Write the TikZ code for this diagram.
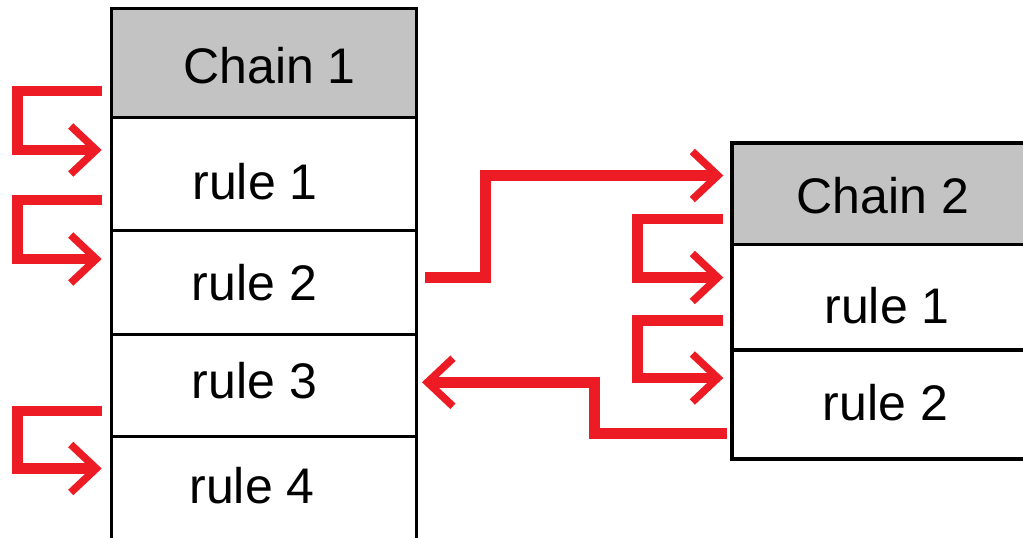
\documentclass[tikz,border=0pt]{standalone}
\usepackage{fontspec}
\setmainfont{Liberation Sans}
\usetikzlibrary{arrows.meta,calc}
\definecolor{flowred}{HTML}{ED1C24}
\definecolor{headgray}{HTML}{C3C3C3}
\tikzset{
  cell/.style={draw=black, line width=3.5pt, fill=white, inner sep=0pt, outer sep=0pt,
    minimum width=#1},
  cell/.default=305pt,
  headcell/.style={cell=#1, fill=headgray},
  headcell/.default=305pt,
  txt/.style={anchor=base, inner sep=0pt, font=\fontsize{50}{60}\selectfont},
  flow/.style={draw=flowred, line width=10.7pt, line cap=butt, line join=miter,
    -{Straight Barb[length=25.5pt, width=48pt, line width=7.5pt]}},
}
\begin{document}
\begin{tikzpicture}[x=1pt, y=-1pt]
  \clip (0,0) rectangle (1023,538);
  \fill[white] (0,0) rectangle (1023,538);

  % first chain
  \node[headcell, minimum height=109pt] (c1h)  at (264,63)    {};
  \node[cell, minimum height=113pt]     (c1r1) at (264,174)   {};
  \node[cell, minimum height=104pt]     (c1r2) at (264,282.5) {};
  \node[cell, minimum height=102pt]     (c1r3) at (264,385.5) {};
  \node[cell, minimum height=110pt]     (c1r4) at (264,491.5) {};

  \node[txt] (t1h)  at (269.5,83) {Chain 1};
  \node[txt] (t1r1) at (255,199)  {rule 1};
  \node[txt] (t1r2) at (254.5,300) {rule 2};
  \node[txt] (t1r3) at (254.5,398) {rule 3};
  \node[txt] (t1r4) at (252,503)  {rule 4};

  % second chain
  \node[headcell=310pt, minimum height=101.5pt] (c2h)  at (887,193.75) {};
  \node[cell=310pt, minimum height=105.5pt]     (c2r1) at (887,297.25) {};
  \node[cell=310pt, minimum height=109pt]       (c2r2) at (887,404.5)  {};

  \node[txt] (t2h)  at (883,213) {Chain 2};
  \node[txt] (t2r1) at (887,323) {rule 1};
  \node[txt] (t2r2) at (885.5,420) {rule 2};

  % fall-through loops along the first chain
  \draw[flow] ($(c1h.west)+(-9.8,28)$) -- ++(-84.2,0) |- ($(c1r1.west)+(-9.8,-24)$);
  \draw[flow] ($(c1r1.west)+(-9.8,26)$) -- ++(-84.2,0) |- ($(c1r2.west)+(-9.8,-23.5)$);
  \draw[flow] ($(c1r3.west)+(-9.8,25.5)$) -- ++(-84.2,0) |- ($(c1r4.west)+(-9.8,-23)$);

  % jump from rule 2 into the second chain
  \draw[flow] ($(c1r2.east)+(8.5,-5)$) -- ++(60.5,0) |- ($(c2h.west)+(-8.7,-18.25)$);

  % fall-through loops along the second chain
  \draw[flow] ($(c2h.west)+(-8.7,25.25)$) -- ++(-85.8,0) |- ($(c2r1.west)+(-8.7,-19.75)$);
  \draw[flow] ($(c2r1.west)+(-8.7,23.25)$) -- ++(-85.8,0) |- ($(c2r2.west)+(-8.7,-26.5)$);

  % return to rule 3 of the first chain
  \draw[flow] ($(c2r2.west)+(-5.3,28.8)$) -- ++(-132.2,0) |- ($(c1r3.east)+(5.5,-3.2)$);
\end{tikzpicture}
\end{document}
